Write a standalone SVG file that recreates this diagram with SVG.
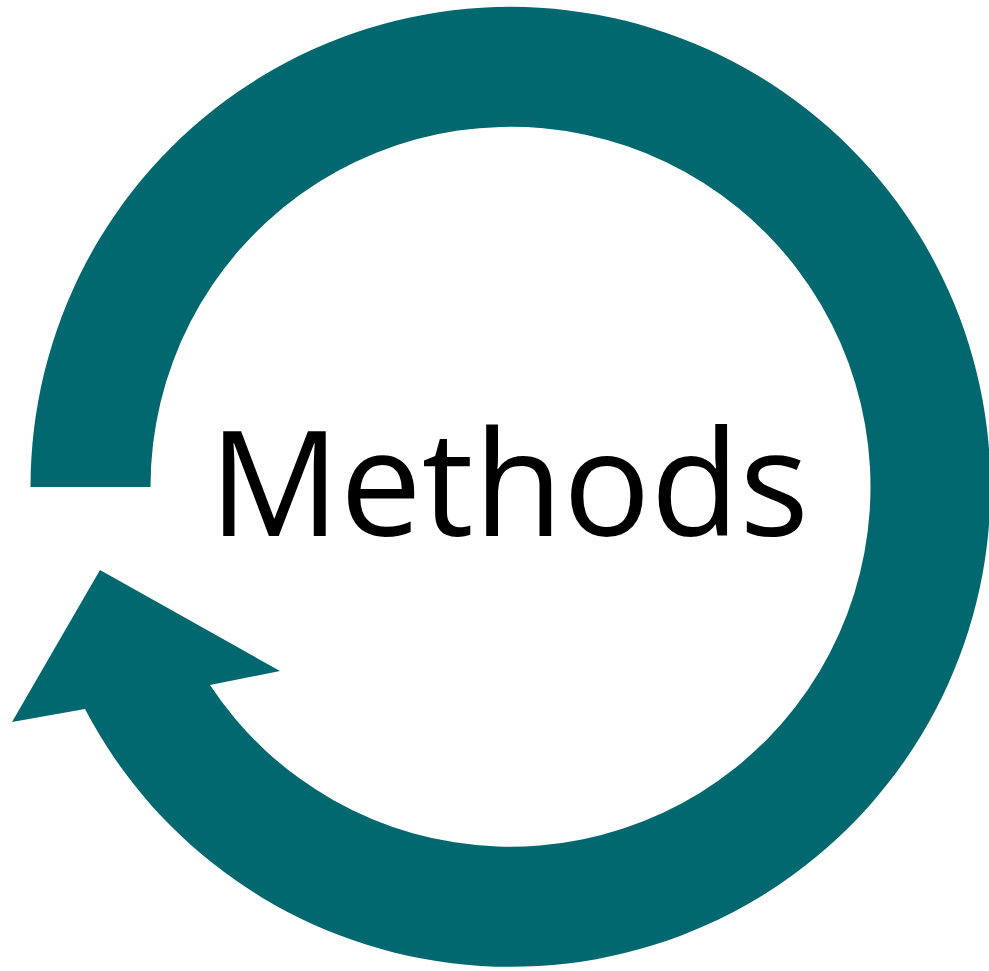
<svg xmlns="http://www.w3.org/2000/svg" width="989" height="971" viewBox="0 0 989 971">
<style>
.arrow{fill:#02686F;stroke:none}
.label{font-family:"Open Sans","Noto Sans",sans-serif;font-size:146px;fill:#000}
</style>
<rect width="989" height="971" fill="#fff"/>
<g id="connectors">
<path class="arrow" d="M30.5,487 A480,480 0 1 1 85,709 L12,722 L100,570 L280,671 L210,685 A360,360 0 1 0 150.5,487 Z"/>
</g>
<g id="methods">
<text class="label" x="209" y="536" textLength="600" lengthAdjust="spacingAndGlyphs">Methods</text>
</g>
</svg>
